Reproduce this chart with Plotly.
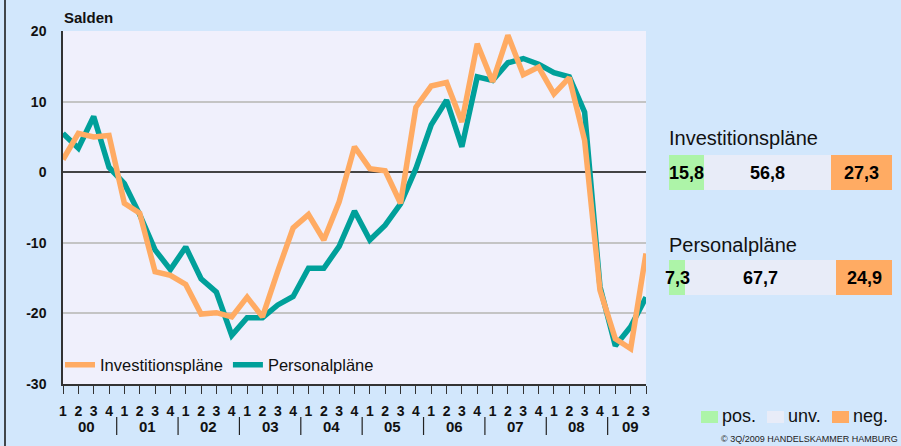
import plotly.graph_objects as go

# ---------------- data ----------------
years = ["00", "01", "02", "03", "04", "05", "06", "07", "08", "09"]
quarters_per_year = [4, 4, 4, 4, 4, 4, 4, 4, 4, 3]
quarter_labels = []
for n in quarters_per_year:
    quarter_labels += [str(q) for q in range(1, n + 1)]

investitionsplaene = [1.8, 5.5, 5.0, 5.2, -4.4, -5.8, -14.1, -14.6, -15.9, -20.1,
                      -19.9, -20.5, -17.7, -20.5, -14.0, -7.9, -6.0, -9.6, -4.2, 3.6,
                      0.5, 0.2, -4.4, 9.2, 12.2, 12.7, 7.1, 18.2, 12.8, 19.4,
                      13.8, 14.9, 11.1, 13.4, 4.5, -16.7, -23.6, -25.0, -11.5]
personalplaene = [5.5, 3.4, 7.9, 0.7, -1.6, -6.0, -11.0, -13.8, -10.6, -15.1,
                  -17.0, -23.1, -20.6, -20.6, -18.8, -17.6, -13.6, -13.6, -10.5, -5.5,
                  -9.6, -7.5, -4.5, 0.5, 6.7, 10.2, 3.6, 13.5, 13.0, 15.5,
                  16.1, 15.3, 14.1, 13.5, 8.5, -16.2, -24.6, -21.9, -17.7]
y_ticks = [-30, -20, -10, 0, 10, 20]

bar_categories = ["Investitionspläne", "Personalpläne"]
share_pos = [15.8, 7.3]
share_unv = [56.8, 67.7]
share_neg = [27.3, 24.9]
share_names = ["pos.", "unv.", "neg."]

# ---------------- styles ----------------
W, H = 901, 446
ORANGE = "#FFAB63"
TEAL = "#00A09A"
GREEN = "#ADF4A8"
LIGHT = "#E8ECF8"
BG = "#D2E7FC"
PLOTBG = "#F0F0FC"
FONT = "Liberation Sans, Arial, sans-serif"


def px_x(p):
    return p / W


def px_y(p):
    return (H - p) / H


idx = list(range(len(investitionsplaene)))

fig = go.Figure()
fig.add_trace(go.Scatter(x=idx, y=personalplaene, mode="lines", name="Personalpläne",
                         line=dict(color=TEAL, width=5.5)))
fig.add_trace(go.Scatter(x=idx, y=investitionsplaene, mode="lines", name="Investitionspläne",
                         line=dict(color=ORANGE, width=5.5)))

# horizontal stacked bars
for vals, col, nm in zip([share_pos, share_unv, share_neg], [GREEN, LIGHT, ORANGE], share_names):
    fig.add_trace(go.Bar(x=vals, y=bar_categories, orientation="h", marker=dict(color=col, line=dict(width=0)),
                         xaxis="x2", yaxis="y2", showlegend=False, name=nm, hoverinfo="x"))

annotations = []
# bar value labels
for ci, cat in enumerate(bar_categories):
    start = 0.0
    for vals in [share_pos, share_unv, share_neg]:
        v = vals[ci]
        annotations.append(dict(x=start + v / 2, y=cat, xref="x2", yref="y2",
                                text="<b>" + f"{v:.1f}".replace(".", ",") + "</b>", showarrow=False,
                                font=dict(family=FONT, size=18, color="#000")))
        start += v

# bar titles
annotations.append(dict(x=px_x(667), y=px_y(138), xref="paper", yref="paper", xanchor="left", yanchor="middle",
                        text=bar_categories[0], showarrow=False, font=dict(family=FONT, size=20, color="#111")))
annotations.append(dict(x=px_x(667), y=px_y(245), xref="paper", yref="paper", xanchor="left", yanchor="middle",
                        text=bar_categories[1], showarrow=False, font=dict(family=FONT, size=20, color="#111")))

# "Salden"
annotations.append(dict(x=px_x(62), y=px_y(17), xref="paper", yref="paper", xanchor="left", yanchor="middle",
                        text="<b>Salden</b>", showarrow=False, font=dict(family=FONT, size=15, color="#111")))

shapes = []
# main plot background (only for main subplot)
shapes.append(dict(type="rect", xref="x domain", yref="y domain", x0=0, x1=1, y0=0, y1=1,
                   fillcolor=PLOTBG, line=dict(width=0), layer="below"))

# year labels and separators
start = 0
for yi, (yr, n) in enumerate(zip(years, quarters_per_year)):
    annotations.append(dict(x=start + (n - 1) / 2, y=px_y(426), xref="x", yref="paper", yanchor="middle",
                            text="<b>" + yr + "</b>", showarrow=False, font=dict(family=FONT, size=15, color="#111")))
    if yi > 0:
        shapes.append(dict(type="line", xref="x", yref="paper", x0=start - 0.5, x1=start - 0.5,
                           y0=px_y(435), y1=px_y(417), line=dict(color="#222", width=1.2)))
    start += n

# bottom legend (pos./unv./neg.)
leg_x = [701, 767, 832]
for lx, col, nm in zip(leg_x, [GREEN, LIGHT, ORANGE], share_names):
    shapes.append(dict(type="rect", xref="paper", yref="paper", x0=px_x(lx), x1=px_x(lx + 17),
                       y0=px_y(423), y1=px_y(411), fillcolor=col, line=dict(width=0)))
    annotations.append(dict(x=px_x(lx + 19), y=px_y(416), xref="paper", yref="paper", xanchor="left",
                            yanchor="middle", text=nm, showarrow=False,
                            font=dict(family=FONT, size=18, color="#111")))

# footer
annotations.append(dict(x=px_x(900), y=px_y(439), xref="paper", yref="paper", xanchor="right", yanchor="middle",
                        text="© 3Q/2009 HANDELSKAMMER HAMBURG", showarrow=False,
                        font=dict(family=FONT, size=9, color="#222")))

# left frame line
shapes.append(dict(type="line", xref="paper", yref="paper", x0=px_x(5), x1=px_x(5), y0=0, y1=1,
                   line=dict(color="#111", width=1.5)))

fig.update_layout(
    width=W, height=H, autosize=False,
    margin=dict(l=0, r=0, t=0, b=0, pad=0, autoexpand=False),
    paper_bgcolor=BG, plot_bgcolor="rgba(0,0,0,0)",
    font=dict(family=FONT, color="#111"),
    bargap=0.667, barmode="stack",
    xaxis=dict(domain=[px_x(63), px_x(646)], range=[0, len(idx) - 1],
               tickmode="array", tickvals=idx, ticktext=["<b>" + t + "</b>" for t in quarter_labels],
               ticks="outside", ticklen=8, tickcolor="#333", tickwidth=1.2,
               tickfont=dict(family=FONT, size=14, color="#111"), ticklabelstandoff=5,
               showline=True, linecolor="#333", linewidth=1.5, showgrid=False, zeroline=False,
               fixedrange=True, automargin=False),
    yaxis=dict(domain=[px_y(384), px_y(31)], range=[-30, 20],
               tickmode="array", tickvals=y_ticks, ticktext=["<b>" + str(v) + "</b>" for v in y_ticks],
               tickfont=dict(family=FONT, size=14, color="#111"), ticks="", ticklabelstandoff=12,
               showline=True, linecolor="#333", linewidth=1.5,
               showgrid=True, gridcolor="#C4C4C4", gridwidth=1.5,
               zeroline=True, zerolinecolor="#444", zerolinewidth=1.5, fixedrange=True, automargin=False),
    xaxis2=dict(domain=[px_x(669), px_x(892)], range=[0, 100], visible=False, anchor="y2"),
    yaxis2=dict(domain=[px_y(330), px_y(120)], visible=False, anchor="x2", autorange="reversed",
                categoryorder="array", categoryarray=bar_categories),
    legend=dict(x=px_x(60), y=px_y(365), xanchor="left", yanchor="middle", orientation="h",
                bgcolor="rgba(0,0,0,0)", font=dict(family=FONT, size=16.5, color="#111"),
                traceorder="reversed", itemwidth=30),
    annotations=annotations,
    shapes=shapes,
    showlegend=True,
)

fig.write_html("out.html", config={"responsive": False, "displayModeBar": False},
               post_script="document.body.style.margin='0';document.body.style.overflow='hidden';")
